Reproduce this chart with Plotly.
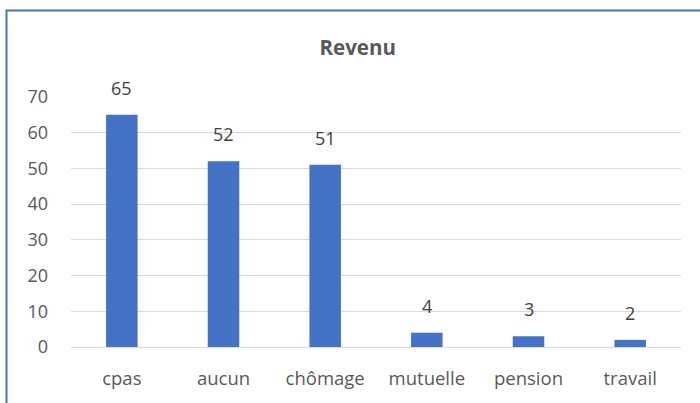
import plotly.graph_objects as go

categories = ["cpas", "aucun", "chômage", "mutuelle", "pension", "travail"]
values = [65, 52, 51, 4, 3, 2]
y_ticks = [0, 10, 20, 30, 40, 50, 60, 70]

FONT = "'Open Sans', sans-serif"
BLUE = "#4472C4"

fig = go.Figure()
fig.add_trace(go.Bar(
    x=categories, y=values, marker_color=BLUE, marker_line_width=0,
    hoverinfo="x+y",
))

for c, v in zip(categories, values):
    fig.add_annotation(x=c, y=v, text=str(v), showarrow=False, yanchor="bottom",
                       yshift=13, font=dict(family=FONT, size=18, color="#404040"))

fig.update_layout(
    width=700, height=403,
    margin=dict(l=71, r=19, t=97, b=56),
    paper_bgcolor="white", plot_bgcolor="white",
    bargap=0.69,
    showlegend=False,
    title=dict(text="<b>Revenu</b>", x=0.511, xanchor="center", y=1 - 48 / 403,
               yanchor="middle", yref="container",
               font=dict(family=FONT, size=20.5, color="#595959")),
    xaxis=dict(showgrid=False, showline=False, zeroline=False,
               ticks="outside", ticklen=15, tickcolor="rgba(0,0,0,0)",
               tickfont=dict(family=FONT, size=18.5, color="#595959")),
    yaxis=dict(range=[0, 70], tickvals=y_ticks, showgrid=True, gridcolor="#D9D9D9",
               gridwidth=1, zeroline=True, zerolinecolor="#D9D9D9", zerolinewidth=1,
               showline=False, ticks="",
               tickfont=dict(family=FONT, size=18, color="#595959"),
               ticklabelstandoff=22),
    shapes=[dict(type="rect", xref="paper", yref="paper",
                 x0=(6.5 - 71) / 610, x1=1.2, y0=-0.5, y1=(347 - 10.5) / 250,
                 line=dict(color=BLUE, width=2), fillcolor="rgba(0,0,0,0)", layer="above")],
)

fig.write_html("out.html", config={"displayModeBar": False},
               post_script="document.body.style.margin='0';document.body.style.padding='0';")
